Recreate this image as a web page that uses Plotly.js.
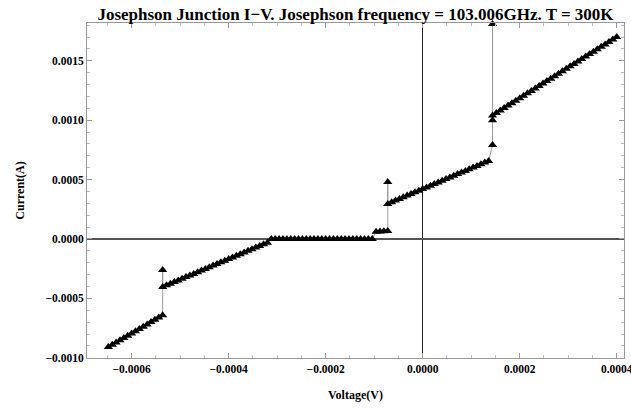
<!DOCTYPE html>
<html>
<head>
<meta charset="utf-8">
<script src="https://cdn.plot.ly/plotly-3.0.1.min.js"></script>
<style>html,body{margin:0;padding:0;background:#fff;}#chart{width:631px;height:411px;}</style>
</head>
<body>
<div id="chart"></div>
<script>
// Voltage (V) values, in sweep order
const voltage = [
  -0.000648, -0.000640, -0.000632, -0.000624, -0.000616, -0.000608, -0.000600, -0.000592,
  -0.000584, -0.000576, -0.000568, -0.000560, -0.000552, -0.000544, -0.000536,
  -0.000536, -0.000536,
  -0.000528, -0.000520, -0.000512, -0.000504, -0.000496, -0.000488, -0.000480, -0.000472,
  -0.000464, -0.000456, -0.000448, -0.000440, -0.000432, -0.000424, -0.000416, -0.000408,
  -0.000400, -0.000392, -0.000384, -0.000376, -0.000368, -0.000360, -0.000352, -0.000344,
  -0.000336, -0.000328, -0.000320,
  -0.000312, -0.000304, -0.000296, -0.000288, -0.000280, -0.000272, -0.000264, -0.000256,
  -0.000248, -0.000240, -0.000232, -0.000224, -0.000216, -0.000208, -0.000200, -0.000192,
  -0.000184, -0.000176, -0.000168, -0.000160, -0.000152, -0.000144, -0.000136, -0.000128,
  -0.000120, -0.000112, -0.000104,
  -0.000096, -0.000088, -0.000080, -0.000072,
  -0.000072, -0.000072,
  -0.000064, -0.000056, -0.000048, -0.000040, -0.000032, -0.000024, -0.000016, -0.000008,
  0.000000, 0.000008, 0.000016, 0.000024, 0.000032, 0.000040, 0.000048, 0.000056,
  0.000064, 0.000072, 0.000080, 0.000088, 0.000096, 0.000104, 0.000112, 0.000120,
  0.000128, 0.000136,
  0.000144, 0.000144, 0.000144,
  0.000144, 0.000152, 0.000160, 0.000168, 0.000176, 0.000184, 0.000192, 0.000200,
  0.000208, 0.000216, 0.000224, 0.000232, 0.000240, 0.000248, 0.000256, 0.000264,
  0.000272, 0.000280, 0.000288, 0.000296, 0.000304, 0.000312, 0.000320, 0.000328,
  0.000336, 0.000344, 0.000352, 0.000360, 0.000368, 0.000376, 0.000384, 0.000392,
  0.000400
];
// Current (A) values, matching voltage[]
const current = [
  -0.000909, -0.000890, -0.000871, -0.000852, -0.000833, -0.000814, -0.000795, -0.000776,
  -0.000757, -0.000738, -0.000719, -0.000700, -0.000681, -0.000662, -0.000643,
  -0.000261, -0.000404,
  -0.000390, -0.000376, -0.000363, -0.000349, -0.000335, -0.000321, -0.000307, -0.000294,
  -0.000280, -0.000266, -0.000252, -0.000238, -0.000224, -0.000211, -0.000197, -0.000183,
  -0.000169, -0.000155, -0.000142, -0.000128, -0.000114, -0.000100, -0.000086, -0.000072,
  -0.000059, -0.000045, -0.000031,
  0, 0, 0, 0, 0, 0, 0, 0,
  0, 0, 0, 0, 0, 0, 0, 0,
  0, 0, 0, 0, 0, 0, 0, 0,
  0, 0, 0,
  0.000060, 0.000062, 0.000065, 0.000067,
  0.000480, 0.000295,
  0.000309, 0.000323, 0.000337, 0.000351, 0.000365, 0.000379, 0.000393, 0.000406,
  0.000420, 0.000434, 0.000448, 0.000462, 0.000476, 0.000490, 0.000504, 0.000518,
  0.000532, 0.000546, 0.000560, 0.000573, 0.000587, 0.000601, 0.000615, 0.000629,
  0.000643, 0.000657,
  0.000790, 0.001810, 0.001000,
  0.001040, 0.001061, 0.001081, 0.001102, 0.001123, 0.001143, 0.001164, 0.001184,
  0.001205, 0.001226, 0.001246, 0.001267, 0.001288, 0.001308, 0.001329, 0.001349,
  0.001370, 0.001391, 0.001411, 0.001432, 0.001453, 0.001473, 0.001494, 0.001514,
  0.001535, 0.001556, 0.001576, 0.001597, 0.001618, 0.001638, 0.001659, 0.001679,
  0.001700
];
const xTickVals = [-0.0006, -0.0004, -0.0002, 0.0000, 0.0002, 0.0004];
const xTickText = ["\u22120.0006", "\u22120.0004", "\u22120.0002", "0.0000", "0.0002", "0.0004"];
const yTickVals = [-0.0010, -0.0005, 0.0000, 0.0005, 0.0010, 0.0015];
const yTickText = ["\u22120.0010", "\u22120.0005", "0.0000", "0.0005", "0.0010", "0.0015"];
const titleText = "Josephson Junction I\u2212V. Josephson frequency = 103.006GHz. T = 300K";

const serif = "Liberation Serif, Times New Roman, serif";

const trace = {
  x: voltage, y: current, type: "scatter", mode: "lines+markers",
  line: {color: "#9a9a9a", width: 1},
  marker: {symbol: "triangle-up", size: 8, color: "#000"},
  hoverinfo: "none", showlegend: false, cliponaxis: false
};

const layout = {
  width: 631, height: 411,
  margin: {l: 87, r: 7, t: 23, b: 53},
  paper_bgcolor: "#fff", plot_bgcolor: "#fff",
  title: {text: "<b>" + titleText + "</b>", font: {family: serif, size: 17, color: "#000"}, x: 0.5, xanchor: "center", xref: "paper", y: 0.967, yanchor: "middle"},
  xaxis: {
    automargin: false,
    range: [-0.000692, 0.000415],
    tickvals: xTickVals, ticktext: xTickText,
    ticklabeloverflow: "allow",
    ticks: "inside", ticklen: 5, tickcolor: "#999", tickwidth: 1,
    minor: {dtick: 0.00005, tick0: 0, ticks: "inside", ticklen: 3, tickcolor: "#bbb", showgrid: false},
    showline: true, linecolor: "#999", linewidth: 1, mirror: "allticks",
    showgrid: false, zeroline: true, zerolinecolor: "#222", zerolinewidth: 1,
    tickfont: {family: serif, size: 11.5, color: "#000", weight: "bold"},
    title: {text: "<b>Voltage(V)</b>", font: {family: serif, size: 12, color: "#000"}, standoff: 16}
  },
  yaxis: {
    automargin: false,
    range: [-0.001002, 0.001818],
    tickvals: yTickVals, ticktext: yTickText,
    ticklabeloverflow: "allow",
    ticks: "inside", ticklen: 5, tickcolor: "#999", tickwidth: 1,
    minor: {dtick: 0.0001, tick0: 0, ticks: "inside", ticklen: 3, tickcolor: "#bbb", showgrid: false},
    showline: true, linecolor: "#999", linewidth: 1, mirror: "allticks",
    showgrid: false, zeroline: true, zerolinecolor: "#555", zerolinewidth: 1.5,
    tickfont: {family: serif, size: 11.5, color: "#000", weight: "bold"},
    title: {text: "<b>Current(A)</b>", font: {family: serif, size: 12, color: "#000"}, standoff: 18}
  }
};

Plotly.newPlot("chart", [trace], layout, {displayModeBar: false, staticPlot: true});
</script>
</body>
</html>
